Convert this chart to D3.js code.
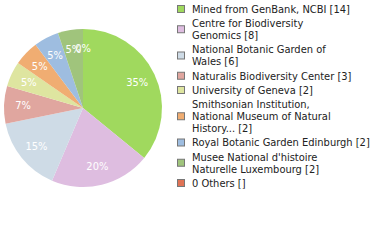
<!DOCTYPE html>
<html>
<head>
<meta charset="utf-8">
<script src="https://cdn.jsdelivr.net/npm/d3@7"></script>
<style>
  body { margin: 0; background: #fff; }
  svg text { font-family: "DejaVu Sans Condensed", "DejaVu Sans", sans-serif; }
</style>
</head>
<body>
<div id="chart"></div>
<script>
// legend text, one entry per source, already wrapped as in the picture
const labelLines = [
  ["Mined from GenBank, NCBI [14]"],
  ["Centre for Biodiversity", "Genomics [8]"],
  ["National Botanic Garden of", "Wales [6]"],
  ["Naturalis Biodiversity Center [3]"],
  ["University of Geneva [2]"],
  ["Smithsonian Institution,", "National Museum of Natural", "History... [2]"],
  ["Royal Botanic Garden Edinburgh [2]"],
  ["Musee National d'histoire", "Naturelle Luxembourg [2]"],
  ["0 Others []"],
];
const counts = [14, 8, 6, 3, 2, 2, 2, 2, 0];
const colors = [
  "#a0d95e", "#debde0", "#cedbe6", "#e0a69f", "#dee5a0",
  "#f0ad72", "#9ebde0", "#a0c47c", "#e07355",
];

const width = 380, height = 240;
const cx = 83, cy = 108, radius = 79;

const svg = d3.select("#chart").append("svg")
  .attr("width", width).attr("height", height);

const total = d3.sum(counts);
const items = counts.map((c, i) => ({ i, value: c }));

const pie = d3.pie().value((d) => d.value).sort(null);
const arc = d3.arc().innerRadius(0).outerRadius(radius);
const labelArc = d3.arc().innerRadius(radius * 0.76).outerRadius(radius * 0.76);

const g = svg.append("g").attr("transform", `translate(${cx},${cy})`);

g.selectAll("path")
  .data(pie(items))
  .enter()
  .append("path")
  .attr("d", arc)
  .attr("fill", (d) => colors[d.data.i]);

g.selectAll("text")
  .data(pie(items))
  .enter()
  .append("text")
  .attr("transform", (d) => `translate(${labelArc.centroid(d)})`)
  .attr("text-anchor", "middle")
  .attr("dy", "0.35em")
  .attr("fill", "#fff")
  .style("font-size", "11px")
  .text((d) => Math.floor((d.data.value / total) * 100) + "%");

// legend: 12px per line, small gap between entries
const lineH = 12, gap = 2.25;
let y = 9;
const legend = svg.append("g");
labelLines.forEach((lines, i) => {
  const mid = y + ((lines.length - 1) * lineH) / 2;
  legend.append("rect")
    .attr("x", 177.5).attr("y", mid - 3.5)
    .attr("width", 7).attr("height", 7)
    .attr("fill", colors[i])
    .attr("stroke", "#777");
  const t = legend.append("text")
    .attr("x", 192)
    .attr("fill", "#222")
    .style("font-size", "11px");
  lines.forEach((ln, k) => {
    t.append("tspan")
      .attr("x", 192)
      .attr("y", y + k * lineH)
      .attr("dy", "0.35em")
      .text(ln);
  });
  y += lines.length * lineH + gap;
});
</script>
</body>
</html>
